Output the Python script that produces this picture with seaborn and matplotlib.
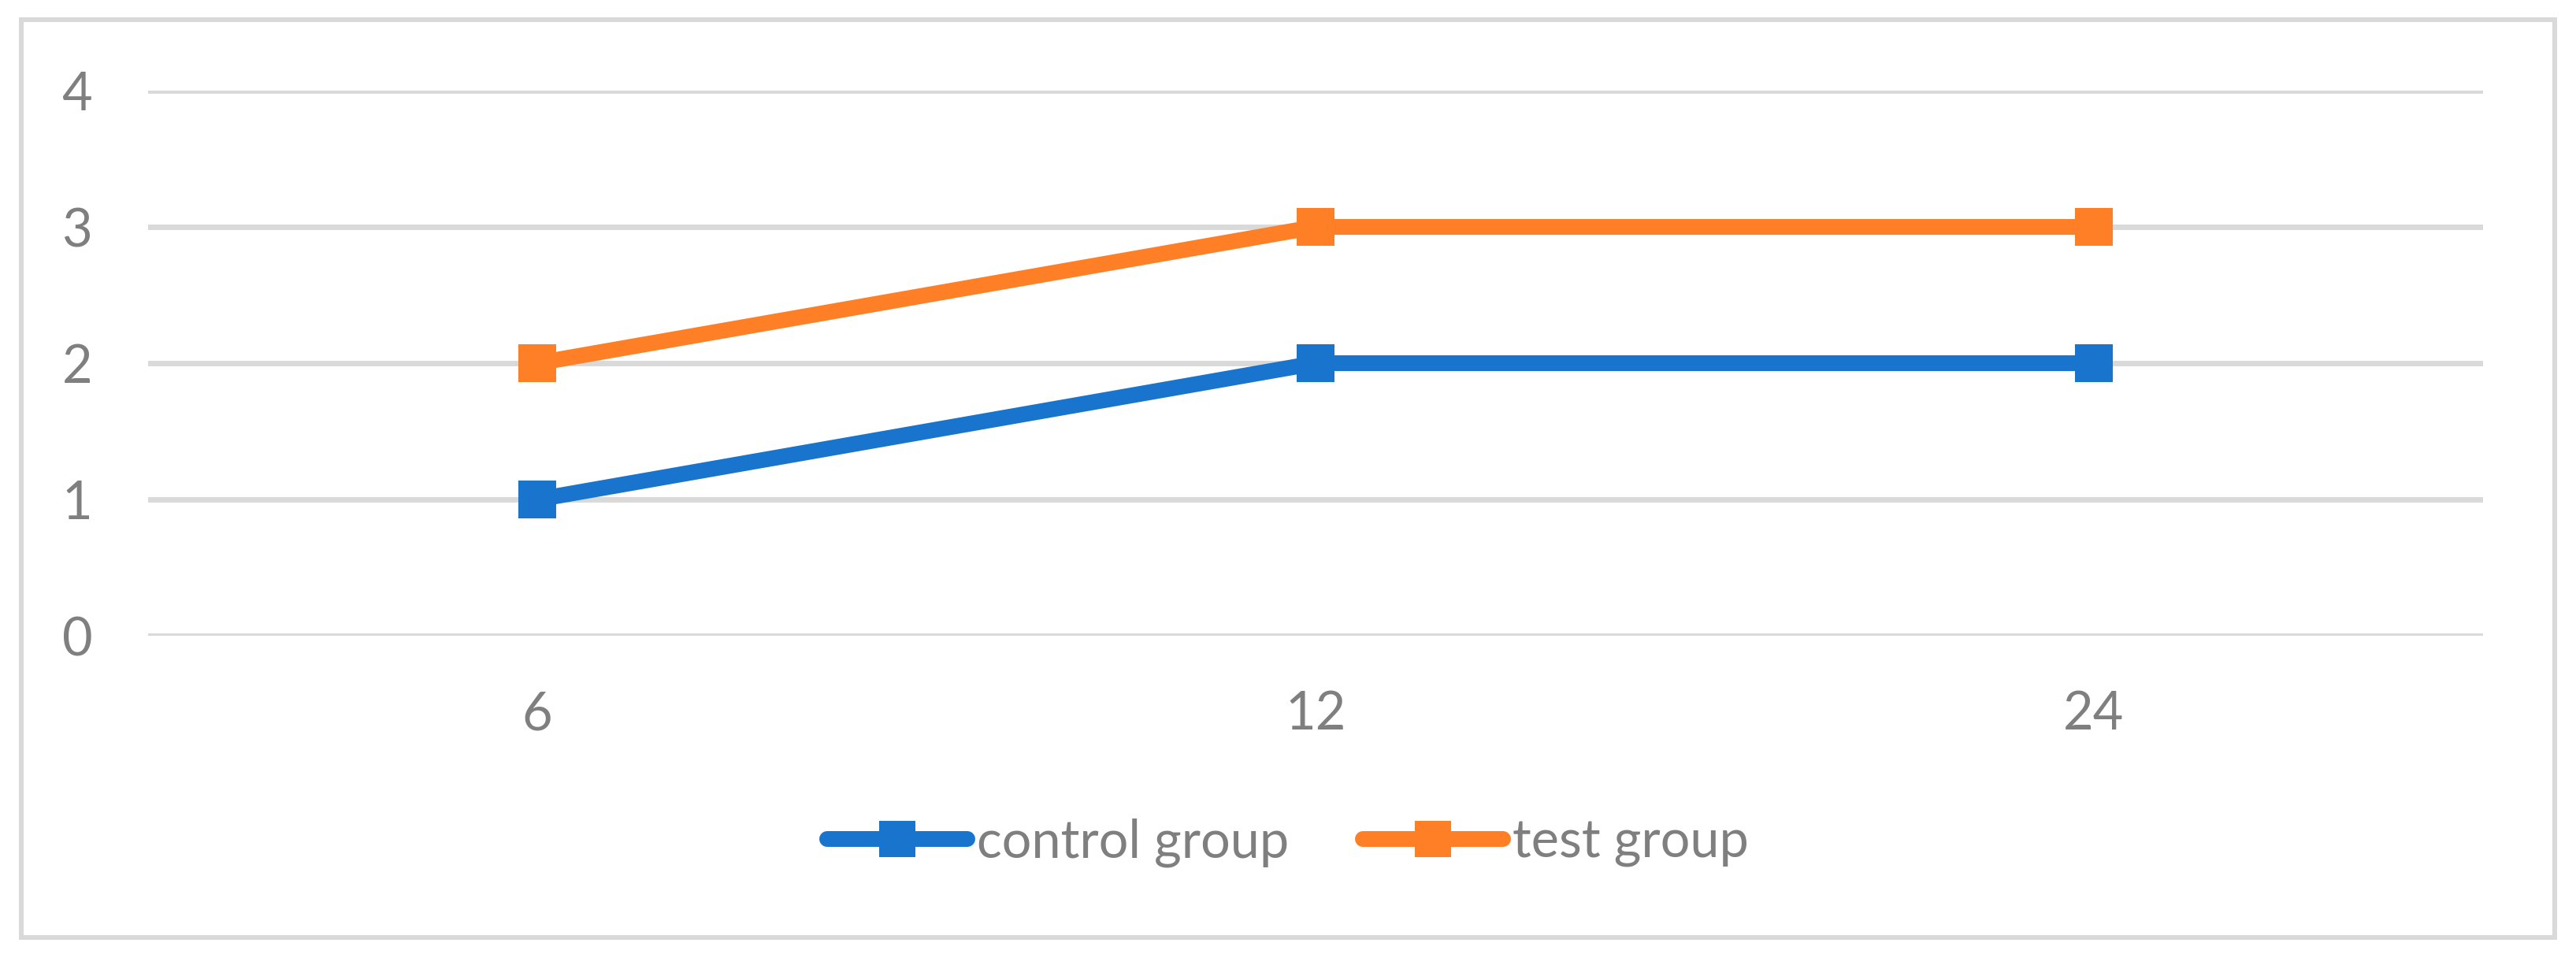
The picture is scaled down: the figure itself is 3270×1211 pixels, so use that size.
import matplotlib
matplotlib.use("Agg")
import pandas as pd
import numpy as np
import matplotlib.pyplot as plt
import seaborn as sns
from matplotlib.lines import Line2D
from matplotlib.patches import Rectangle

# ----------------- Dados -----------------
meses = ["6", "12", "24"]
control_group = [1, 2, 2]
test_group = [2, 3, 3]
grupos = ["control group", "test group"]
cores = ["#1874CD", "#FF7F27"]
y_ticks = [0, 1, 2, 3, 4]

df = pd.DataFrame({
    "mes": meses * 2,
    "valor": control_group + test_group,
    "grupo": [grupos[0]] * len(meses) + [grupos[1]] * len(meses),
})

# ----------------- Estilo -----------------
sns.set_theme(style="white")
plt.rcParams["font.family"] = ["Lato", "DejaVu Sans"]
cinza_texto = "#7F7F7F"
cinza_grade = "#D9D9D9"

fig = plt.figure(figsize=(32.7, 12.11), dpi=100)
ax = fig.add_axes([0.0575, 0.3336, 0.9064, 0.5714])

sns.lineplot(data=df, x="mes", y="valor", hue="grupo", hue_order=grupos,
             palette=cores, marker="s", markersize=34.5, markeredgewidth=0,
             linewidth=14.4, sort=False, legend=False, ax=ax, clip_on=False,
             solid_capstyle="butt")

ax.set_xlim(-0.5, 2.5)
ax.set_ylim(0, 4)
ax.set_yticks(y_ticks)
ax.yaxis.grid(True, color=cinza_grade, linewidth=5)
ax.xaxis.grid(False)
ax.set_axisbelow(True)
for s in ax.spines.values():
    s.set_visible(False)
ax.set_xlabel("")
ax.set_ylabel("")
ax.tick_params(axis="both", length=0, labelsize=48, labelcolor=cinza_texto)
ax.tick_params(axis="y", pad=51)
ax.tick_params(axis="x", pad=50)

# ----------------- Legenda -----------------
handles = [Line2D([0], [0], color=c, linewidth=14.4, marker="s", markersize=33,
                  markeredgewidth=0, solid_capstyle="round") for c in cores]
leg = fig.legend(handles, grupos, loc="center", bbox_to_anchor=(0.5, 0.1164),
                 ncol=2, frameon=False, fontsize=48, handlelength=2.67,
                 handletextpad=0.18, columnspacing=1.4, labelcolor=cinza_texto)

# ----------------- Borda -----------------
fig.patches.append(Rectangle((0.0083, 0.0173), 0.9835, 0.962, transform=fig.transFigure,
                             fill=False, edgecolor=cinza_grade, linewidth=4.3))

fig.savefig("out.png", dpi=100, facecolor="white")
